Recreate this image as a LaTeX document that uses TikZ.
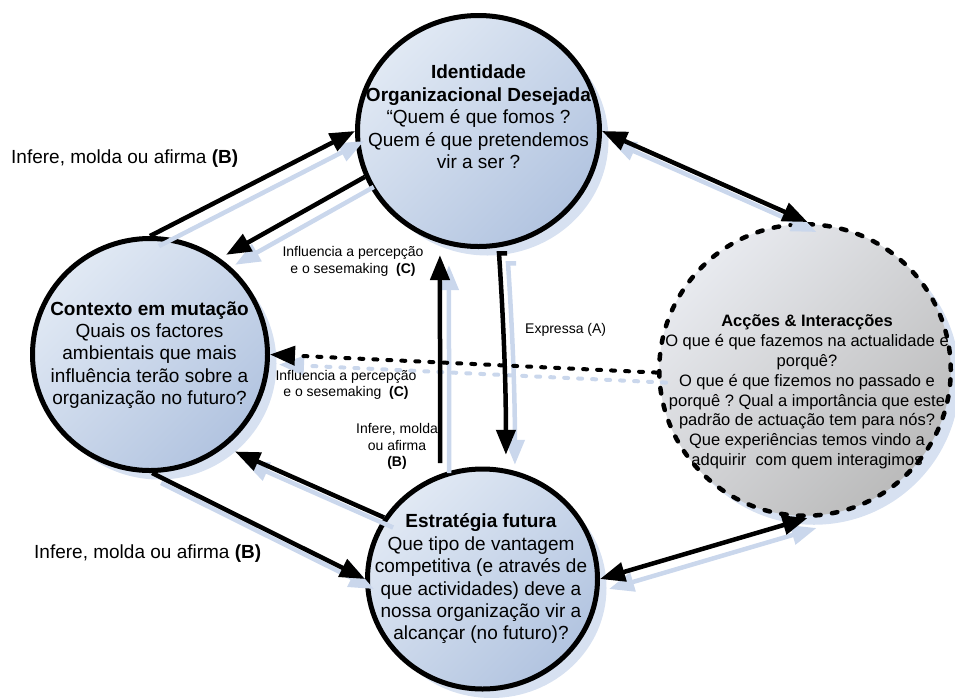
\documentclass[tikz,border=0pt]{standalone}
\usepackage{fontspec}
\setmainfont{Liberation Sans}
\usetikzlibrary{arrows.meta,shapes.geometric,shadows}
\frenchspacing

\definecolor{circlight}{HTML}{E1E9F4}
\definecolor{circdark}{HTML}{B2C4E0}
\definecolor{greylight}{HTML}{E8EAEF}
\definecolor{greydark}{HTML}{BBBBBB}
\definecolor{shadowblue}{HTML}{D7E1F1}
\definecolor{linkshadow}{HTML}{CAD7EC}

\tikzset{
  stage/.style={ellipse, draw=black, line width=5pt, inner sep=0pt,
    top color=circlight, bottom color=circdark, shading angle=45,
    drop shadow={shadow xshift=9pt, shadow yshift=-9pt, fill=shadowblue, opacity=1}},
  actions/.style={ellipse, draw=black, line width=4.5pt, inner sep=0pt,
    dash pattern=on 5.5pt off 11.5pt, line cap=round,
    top color=greylight, bottom color=greydark, shading angle=45,
    drop shadow={shadow xshift=9pt, shadow yshift=-9pt, fill=shadowblue, opacity=1}},
  tipshape/.style={-{Triangle[length=25pt,width=19pt]}},
  link/.style={draw=black, line width=4.5pt, tipshape},
  dlink/.style={link, {Triangle[length=25pt,width=19pt]}-{Triangle[length=25pt,width=19pt]}},
  dashlink/.style={link, line width=4pt, dash pattern=on 4pt off 10pt, line cap=round},
  shadowlink/.style={draw=linkshadow, line width=4.5pt, tipshape},
  circtext/.style={align=center, inner sep=0pt, font=\fontsize{19}{22.4}\selectfont},
  acttext/.style={align=center, inner sep=0pt, font=\fontsize{16.5}{19.8}\selectfont},
  sidenote/.style={inner sep=0pt, font=\fontsize{19}{23}\selectfont},
  linknote/.style={inner sep=0pt, align=center, font=\fontsize{14}{16.5}\selectfont},
}

% all connectors between the four stages
\newcommand\linkpaths{%
  \draw[link] (L.90) -- (T.180);
  \draw[link, shorten >=7pt] (T.202) -- (L.54);
  \draw[link] (L.271) -- (B.180);
  \draw[link, shorten >=11pt] (B.148) -- (L.309);
  \draw[link, shorten <=11pt, shorten >=12pt] (B.112) -- (T.251);
  \draw[link, shorten >=14pt] ([shift={(8pt,-6pt)}]T.280) -- ([yshift=-6pt]T.280)
    .. controls +(4,60) and +(0,-90) .. (B.78);
  \draw[dashlink] (R.181) -- (L.0);
  \draw[dlink] (T.0) -- (R.89);
  \draw[dlink] (B.0) -- (R.271);
}

\begin{document}
\begin{tikzpicture}[x=1pt,y=-1pt]
\useasboundingbox (0,0) rectangle (955,697);

% the four stages
\node[stage, minimum width=242pt, minimum height=231pt] (T) at (478.5,131) {};
\node[stage, minimum width=235pt, minimum height=232pt] (L) at (150,354.5) {};
\node[stage, minimum width=230pt, minimum height=220pt] (B) at (482.5,579) {};
\node[actions, minimum width=291.5pt, minimum height=291.5pt] (R) at (805,370) {};

% soft shadows of the connectors
\begin{scope}[transform canvas={shift={(9pt,-10pt)}}, link/.style={shadowlink}]
  \linkpaths
\end{scope}

% connectors
\linkpaths

% texts inside the stages
\node[circtext] (Ttxt) at (478.5,117) {\textbf{Identidade}\\\textbf{Organizacional Desejada}\\“Quem é que fomos ?\\Quem é que pretendemos\\vir a ser ?};
\node[circtext] (Ltxt) at (149.5,355) {\textbf{Contexto em mutação}\\Quais os factores\\ambientais que mais\\influência terão sobre a\\organização no futuro?};
\node[circtext] (Btxt) at (481,579) {\textbf{Estratégia futura}\\Que tipo de vantagem\\competitiva (e através de\\que actividades) deve a\\nossa organização vir a\\alcançar (no futuro)?};
\node[acttext] (Rtxt) at (807,392) {\textbf{Acções \& Interacções}\\O que é que fazemos na actualidade e\\porquê?\\O que é que fizemos no passado e\\porquê ? Qual a importância que este\\padrão de actuação tem para nós?\\Que experiências temos vindo a\\adquirir~ com quem interagimos};

% connector labels
\node[sidenote, anchor=base west] (noteTL) at (11,163) {Infere, molda ou afirma \textbf{(B)}};
\node[sidenote, anchor=base west] (noteBL) at (34,558) {Infere, molda ou afirma \textbf{(B)}};
\node[linknote] (noteC1) at (353,261.5) {Influencia a percepção\\e o sesemaking~ \textbf{(C)}};
\node[linknote] (noteC2) at (346,385) {Influencia a percepção\\e o sesemaking~ \textbf{(C)}};
\node[linknote] (noteB3) at (397,446.5) {Infere, molda\\ou afirma\\\textbf{(B)}};
\node[linknote, anchor=base west] (noteA) at (525,333) {Expressa (A)};
\end{tikzpicture}
\end{document}
